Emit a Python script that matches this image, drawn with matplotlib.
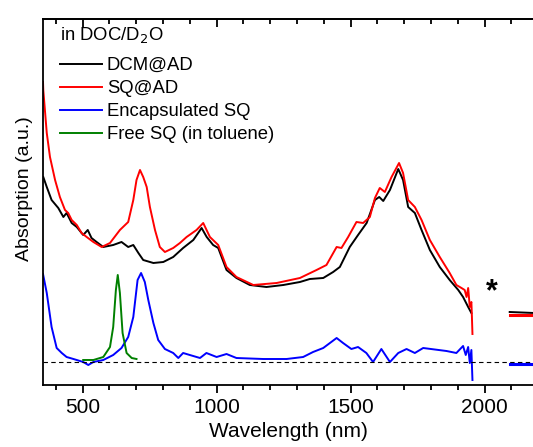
import matplotlib
matplotlib.use("Agg")
import matplotlib.pyplot as plt
from matplotlib.ticker import MultipleLocator
import numpy as np

plt.rcParams['font.family'] = ['Liberation Sans', 'DejaVu Sans']

# wavelength (nm) / absorption (a.u., baseline = 0)
wl_dcm = [353, 366, 384, 409, 428, 440, 459, 478, 502, 519, 533, 552, 577, 614, 645, 670,
          689, 708, 726, 764, 801, 838, 875, 913, 944, 963, 987, 1006, 1037, 1074, 1124,
          1186, 1249, 1311, 1348, 1398, 1435, 1460, 1497, 1528, 1560, 1591, 1607, 1622,
          1647, 1678, 1696, 1715, 1740, 1765, 1796, 1833, 1870, 1902, 1920, 1939, 1951]
ab_dcm = [1.85, 1.75, 1.62, 1.54, 1.45, 1.49, 1.39, 1.35, 1.27, 1.32, 1.24, 1.20, 1.15,
          1.17, 1.20, 1.15, 1.17, 1.09, 1.02, 0.99, 1.00, 1.05, 1.14, 1.22, 1.34, 1.25,
          1.17, 1.14, 0.92, 0.84, 0.77, 0.75, 0.77, 0.80, 0.83, 0.84, 0.90, 0.95, 1.15,
          1.27, 1.39, 1.62, 1.65, 1.61, 1.72, 1.93, 1.82, 1.55, 1.49, 1.32, 1.12, 0.95,
          0.82, 0.72, 0.65, 0.55, 0.49]

wl_sq = [352, 353, 366, 378, 397, 415, 434, 446, 459, 478, 496, 515, 540, 571, 602, 639,
         670, 689, 701, 714, 726, 739, 751, 770, 788, 807, 838, 863, 888, 925, 950, 975,
         1006, 1037, 1074, 1137, 1224, 1311, 1373, 1410, 1448, 1466, 1491, 1522, 1547,
         1572, 1591, 1609, 1628, 1653, 1681, 1696, 1715, 1740, 1765, 1796, 1833, 1870,
         1895, 1914, 1926, 1933, 1939, 1945, 1951, 1953, 1955]
ab_sq = [2.80, 2.72, 2.29, 2.05, 1.82, 1.65, 1.52, 1.49, 1.42, 1.37, 1.29, 1.25, 1.20,
         1.15, 1.19, 1.32, 1.40, 1.62, 1.82, 1.92, 1.85, 1.75, 1.55, 1.32, 1.15, 1.10,
         1.14, 1.19, 1.25, 1.32, 1.39, 1.25, 1.17, 0.95, 0.85, 0.77, 0.79, 0.84, 0.92,
         0.97, 1.15, 1.14, 1.25, 1.40, 1.39, 1.45, 1.64, 1.74, 1.70, 1.85, 1.99, 1.89,
         1.62, 1.55, 1.42, 1.22, 1.05, 0.89, 0.77, 0.74, 0.72, 0.65, 0.74, 0.55, 0.60,
         0.45, 0.28]

wl_enc = [352, 366, 384, 403, 422, 440, 453, 478, 502, 521, 540, 577, 614, 645, 670, 689,
          705, 718, 732, 745, 764, 782, 807, 838, 857, 875, 900, 938, 962, 1000, 1037,
          1074, 1174, 1261, 1323, 1360, 1398, 1448, 1472, 1503, 1528, 1559, 1584, 1615,
          1647, 1678, 1709, 1740, 1771, 1858, 1895, 1920, 1930, 1939, 1945, 1951, 1955]
ab_enc = [0.88, 0.69, 0.35, 0.14, 0.09, 0.05, 0.04, 0.02, 0.00, -0.03, 0.00, 0.02, 0.07,
          0.14, 0.25, 0.45, 0.82, 0.89, 0.80, 0.62, 0.39, 0.22, 0.13, 0.09, 0.04, 0.09,
          0.07, 0.04, 0.09, 0.05, 0.08, 0.04, 0.03, 0.03, 0.05, 0.10, 0.14, 0.24, 0.19,
          0.13, 0.15, 0.09, 0.00, 0.13, 0.00, 0.09, 0.13, 0.09, 0.14, 0.11, 0.09, 0.16,
          0.07, 0.15, -0.01, 0.12, -0.18]

wl_free = [502, 540, 577, 602, 614, 624, 631, 639, 649, 664, 683, 701]
ab_free = [0.02, 0.02, 0.05, 0.15, 0.35, 0.72, 0.87, 0.69, 0.29, 0.09, 0.04, 0.03]

# beyond the D2O gap
wl_tail = [2094, 2185]
ab_dcm_tail = [0.50, 0.49]
ab_sq_tail = [0.47, 0.47]
ab_enc_tail = [-0.02, -0.02]

fig = plt.figure(figsize=(5.33, 4.47), dpi=100)
ax = fig.add_axes([0.0807, 0.1387, 0.9193, 0.8195])

lw = 1.4
ax.plot(wl_dcm, ab_dcm, color='black', lw=lw, label='DCM@AD')
ax.plot(wl_sq, ab_sq, color='red', lw=lw, label='SQ@AD')
ax.plot(wl_enc, ab_enc, color='blue', lw=lw, label='Encapsulated SQ')
ax.plot(wl_free, ab_free, color='green', lw=lw, label='Free SQ (in toluene)')
ax.plot(wl_tail, ab_dcm_tail, color='black', lw=lw)
ax.plot(wl_tail, ab_sq_tail, color='red', lw=2.2)
ax.plot(wl_tail, ab_enc_tail, color='blue', lw=2.2)
ax.axhline(0, color='black', ls='--', lw=0.8, dashes=(4, 3))

ax.text(2028, 0.70, '*', fontsize=22, fontweight='bold', ha='center', va='center')

ax.set_xlim(352, 2181)
ax.set_ylim(-0.23, 3.433)
ax.set_yticks([])
ax.spines['right'].set_visible(False)
for s in ['left', 'top', 'bottom']:
    ax.spines[s].set_linewidth(1.3)
ax.xaxis.set_major_locator(MultipleLocator(500))
ax.xaxis.set_minor_locator(MultipleLocator(100))
ax.tick_params(axis='x', which='both', direction='out', labelsize=15, width=1.3)
ax.tick_params(axis='x', which='major', length=5.5)
ax.tick_params(axis='x', which='minor', length=3.5)

# top ticks point inward
top = ax.secondary_xaxis('top')
top.xaxis.set_major_locator(MultipleLocator(500))
top.xaxis.set_minor_locator(MultipleLocator(100))
top.tick_params(which='both', direction='in', labeltop=False, width=1.3)
top.tick_params(which='major', length=5.5)
top.tick_params(which='minor', length=3.5)
top.spines['top'].set_linewidth(1.3)

ax.set_xlabel('Wavelength (nm)', fontsize=15, labelpad=4)
ax.set_ylabel('Absorption (a.u.)', fontsize=14)
ax.yaxis.set_label_coords(-0.02, 0.535)

# legend title drawn separately so it sits a bit higher than the entries
ax.text(0.034, 0.955, 'in DOC/D$_2$O', transform=ax.transAxes, fontsize=13.3,
        ha='left', va='center')
leg = ax.legend(loc='upper left', frameon=False, fontsize=13.3,
                handlelength=2.3, handletextpad=0.25, labelspacing=0.33,
                borderpad=0.0, borderaxespad=0, bbox_to_anchor=(0.034, 0.895))

fig.savefig('out.png', dpi=100)
